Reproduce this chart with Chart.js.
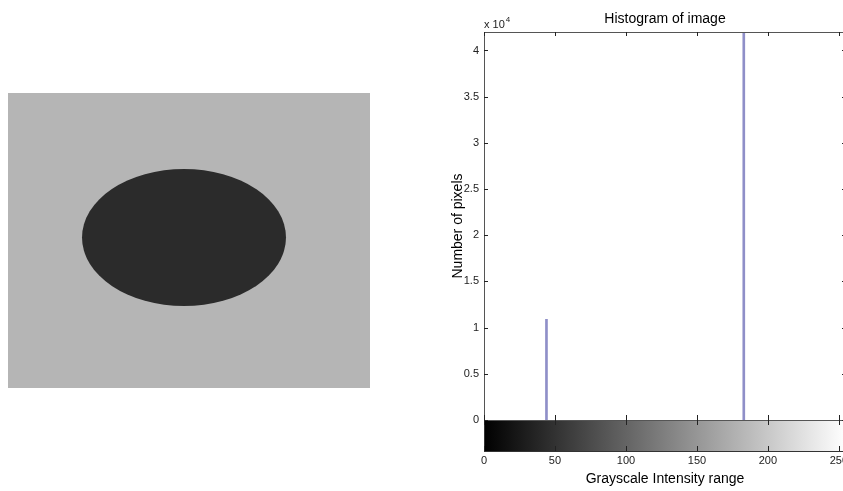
<!DOCTYPE html>
<html>
<head>
<meta charset="utf-8">
<script src="https://cdn.jsdelivr.net/npm/chart.js@4.4.0/dist/chart.umd.min.js"></script>
<style>
  html, body { margin: 0; padding: 0; background: #fff; }
  body { width: 843px; height: 491px; overflow: hidden; position: relative; }
  #photo { position: absolute; left: 8px; top: 93px; width: 362px; height: 295px; background: #b5b5b5; }
  #blob { position: absolute; left: 74px; top: 76px; width: 204px; height: 137px; border-radius: 50%; background: #2b2b2b; }
  #wrap { position: absolute; left: 440px; top: 0; width: 450px; height: 491px; }
</style>
</head>
<body>
<div id="photo"><div id="blob"></div></div>
<div id="wrap"><canvas id="hist"></canvas></div>
<script>
// histogram data
const intensities = [44, 183];
const pixelCounts = [10900, 42500];
const xTickValues = [0, 50, 100, 150, 200, 250];
const yTickValues = [0, 5000, 10000, 15000, 20000, 25000, 30000, 35000, 40000];
const chartTitle = 'Histogram of image';

const FONT = "'Liberation Sans', Arial, sans-serif";

// MATLAB-ish box, inward ticks, colorbar, title and the exponent label
const matlabAxes = {
  id: 'matlabAxes',
  afterDraw(chart) {
    const { ctx, chartArea: a, scales: { x, y } } = chart;
    const x0 = x.getPixelForValue(0), x1 = x.getPixelForValue(255);
    const cbTop = a.bottom, cbBot = a.bottom + 31;

    ctx.save();
    // colorbar
    const g = ctx.createLinearGradient(x0, 0, x1, 0);
    g.addColorStop(0, '#000');
    g.addColorStop(1, '#fff');
    ctx.fillStyle = g;
    ctx.fillRect(x0, cbTop, x1 - x0, cbBot - cbTop);

    ctx.strokeStyle = '#333';
    ctx.lineWidth = 1;
    ctx.strokeRect(Math.round(x0) + 0.5, Math.round(cbTop) + 0.5, x1 - x0, cbBot - cbTop);

    // box around the histogram
    ctx.strokeStyle = '#555';
    ctx.strokeRect(Math.round(a.left) + 0.5, Math.round(a.top) + 0.5, a.right - a.left, a.bottom - a.top);

    // ticks
    ctx.strokeStyle = '#222';
    ctx.beginPath();
    xTickValues.forEach(v => {
      const px = Math.round(x.getPixelForValue(v)) + 0.5;
      ctx.moveTo(px, a.top); ctx.lineTo(px, a.top + 4);
      ctx.moveTo(px, cbTop - 5); ctx.lineTo(px, cbTop + 5);
      ctx.moveTo(px, cbBot - 5); ctx.lineTo(px, cbBot);
    });
    yTickValues.forEach(v => {
      const py = Math.round(y.getPixelForValue(v)) + 0.5;
      ctx.moveTo(a.left, py); ctx.lineTo(a.left + 4, py);
      ctx.moveTo(a.right - 4, py); ctx.lineTo(a.right, py);
    });
    ctx.stroke();

    // title, centred over the plot box
    ctx.fillStyle = '#000';
    ctx.font = '14px ' + FONT;
    ctx.textAlign = 'center';
    ctx.textBaseline = 'middle';
    ctx.fillText(chartTitle, (a.left + a.right) / 2, 19);

    // "x 10^4"
    ctx.fillStyle = '#222';
    ctx.textBaseline = 'alphabetic';
    ctx.textAlign = 'left';
    ctx.font = '11px ' + FONT;
    ctx.fillText('x 10', a.left, 28);
    const w = ctx.measureText('x 10').width;
    ctx.font = '8px ' + FONT;
    ctx.fillText('4', a.left + w + 1, 22);
    ctx.restore();
  }
};

new Chart(document.getElementById('hist'), {
  type: 'bar',
  data: {
    datasets: [{
      data: intensities.map((v, i) => ({ x: v, y: pixelCounts[i] })),
      backgroundColor: '#8f8fc8',
      borderWidth: 0,
      barThickness: 2
    }]
  },
  options: {
    responsive: true,
    maintainAspectRatio: false,
    animation: false,
    layout: { padding: { left: 0, right: 44, top: 32, bottom: 0 } },
    plugins: {
      legend: { display: false },
      tooltip: { enabled: false },
      title: { display: false }
    },
    scales: {
      x: {
        type: 'linear',
        min: 0,
        max: 255,
        offset: false,
        grid: { display: false, drawTicks: false },
        border: { display: false },
        afterBuildTicks: s => { s.ticks = xTickValues.map(v => ({ value: v })); },
        afterFit: s => { s.height = 71; },
        ticks: {
          color: '#222',
          font: { family: FONT, size: 11 },
          padding: 34,
          maxRotation: 0,
          callback: v => String(v)
        },
        title: {
          display: true,
          text: 'Grayscale Intensity range',
          color: '#000',
          font: { family: FONT, size: 14, lineHeight: 1.2 },
          padding: { top: 0, bottom: 3 }
        }
      },
      y: {
        min: 0,
        max: 42000,
        grid: { display: false, drawTicks: false },
        border: { display: false },
        afterBuildTicks: s => { s.ticks = yTickValues.map(v => ({ value: v })); },
        afterFit: s => { s.width = 44; },
        ticks: {
          color: '#222',
          font: { family: FONT, size: 11 },
          padding: 5,
          callback: v => String(v / 10000)
        },
        title: {
          display: true,
          text: 'Number of pixels',
          color: '#000',
          font: { family: FONT, size: 14, lineHeight: 1.2 },
          padding: { top: 9.6, bottom: 0 }
        }
      }
    }
  },
  plugins: [matlabAxes]
});
</script>
</body>
</html>
